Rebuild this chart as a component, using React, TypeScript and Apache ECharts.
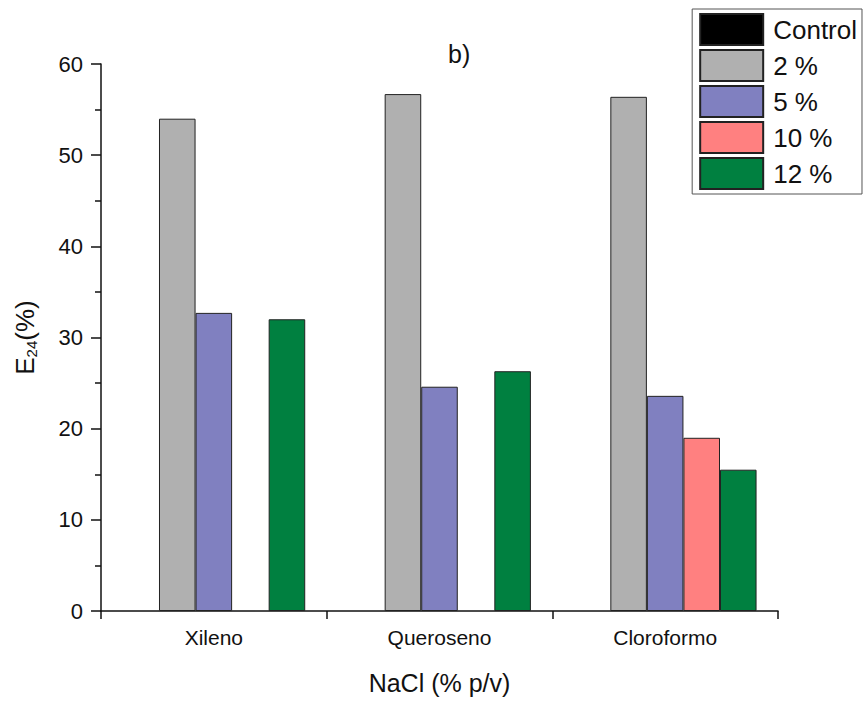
import React, { useEffect, useRef } from "react";
import * as echarts from "echarts";

const categories = ["Xileno", "Queroseno", "Cloroformo"];
const seriesNames = ["Control", "2 %", "5 %", "10 %", "12 %"];
const control: (number | null)[] = [null, null, null];
const pct2: (number | null)[] = [54.0, 56.7, 56.4];
const pct5: (number | null)[] = [32.7, 24.6, 23.6];
const pct10: (number | null)[] = [null, null, 19.0];
const pct12: (number | null)[] = [32.0, 26.3, 15.5];
const colors = ["#000000", "#b0b0b0", "#8080c0", "#ff8080", "#008040"];
const yTicks = [0, 10, 20, 30, 40, 50, 60];

const FONT = "'Liberation Sans', Arial, sans-serif";

export default function App() {
  const ref = useRef<HTMLDivElement>(null);
  useEffect(() => {
    if (!ref.current) return;
    const chart = echarts.init(ref.current, null, { renderer: "svg" });
    const values = [control, pct2, pct5, pct10, pct12];
    chart.setOption({
      animation: false,
      backgroundColor: "#ffffff",
      textStyle: { fontFamily: FONT },
      title: {
        text: "b)",
        left: 443,
        top: 36,
        textStyle: { fontSize: 25, fontWeight: "normal", color: "#111", fontFamily: FONT },
      },
      legend: {
        orient: "vertical",
        right: 5,
        top: 9,
        data: seriesNames,
        icon: "rect",
        itemWidth: 63,
        itemHeight: 31,
        itemGap: 3,
        padding: [4, 5, 4, 7],
        borderColor: "#555",
        borderWidth: 1,
        backgroundColor: "#fff",
        textStyle: { fontSize: 26, color: "#111", fontFamily: FONT, padding: [0, 0, 0, 5] },
      },
      grid: { left: 101, right: 89, top: 64, bottom: 92, containLabel: false },
      xAxis: [
        {
          type: "category",
          data: categories,
          boundaryGap: true,
          name: "NaCl (% p/v)",
          nameLocation: "middle",
          nameGap: 59,
          nameTextStyle: { fontSize: 25, color: "#111", fontFamily: FONT },
          axisLine: { lineStyle: { color: "#111", width: 1.5 } },
          axisTick: { alignWithLabel: true, length: 8, lineStyle: { color: "#111", width: 1.5 } },
          axisLabel: { fontSize: 21, color: "#111", margin: 16, fontFamily: FONT },
        },
        {
          type: "value",
          position: "bottom",
          min: 0,
          max: 3,
          interval: 1,
          axisLine: { show: false },
          axisTick: { show: true, length: 8, lineStyle: { color: "#111", width: 1.5 } },
          axisLabel: { show: false },
          splitLine: { show: false },
        },
      ],
      yAxis: {
        type: "value",
        min: 0,
        max: 60,
        interval: 10,
        name: "{a|E}{b|24}{a|(%)}",
        nameLocation: "middle",
        nameGap: 62,
        nameTextStyle: {
          rich: {
            a: { fontSize: 26, color: "#111", fontFamily: FONT },
            b: { fontSize: 15, color: "#111", fontFamily: FONT, verticalAlign: "bottom", padding: [14, 0, 0, 0] },
          },
        },
        axisLine: { show: true, lineStyle: { color: "#111", width: 1.5 } },
        axisTick: { show: true, length: 10, lineStyle: { color: "#111", width: 1.5 } },
        minorTick: { show: true, splitNumber: 2, length: 6, lineStyle: { color: "#111", width: 1.5 } },
        axisLabel: {
          fontSize: 22,
          color: "#111",
          margin: 18,
          fontFamily: FONT,
          formatter: (v: number) => (yTicks.includes(v) ? String(v) : ""),
        },
        splitLine: { show: false },
      },
      series: seriesNames.map((name, i) => ({
        name,
        type: "bar",
        xAxisIndex: 0,
        data: values[i],
        barGap: "0%",
        barCategoryGap: "19%",
        itemStyle: { color: colors[i], borderColor: "#222", borderWidth: 1 },
      })),
    });
    return () => chart.dispose();
  }, []);
  return (
    <div
      ref={ref}
      style={{ position: "absolute", left: 0, top: 0, width: 867, height: 703 }}
    />
  );
}
